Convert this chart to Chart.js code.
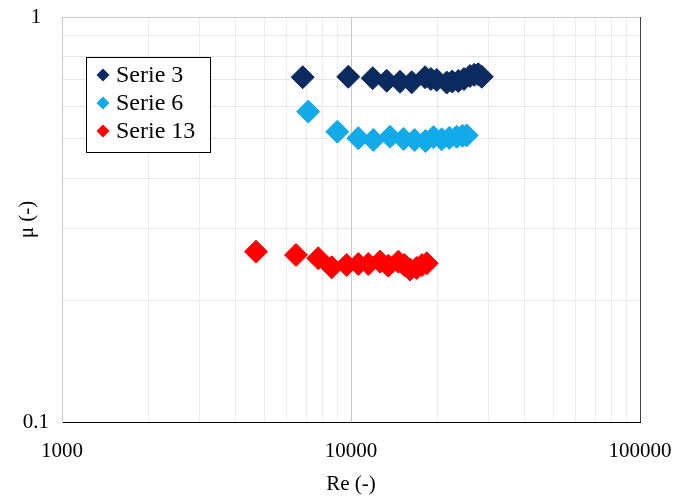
<!DOCTYPE html>
<html>
<head>
<meta charset="utf-8">
<script src="https://cdn.jsdelivr.net/npm/chart.js@4/dist/chart.umd.min.js"></script>
<style>
html,body{margin:0;padding:0;background:#fff;}
#wrap{position:relative;width:675px;height:498px;}
</style>
</head>
<body>
<div id="wrap"><canvas id="c" width="675" height="498"></canvas></div>
<script>
// ---- data ----
const seriesNames = ['Serie 3', 'Serie 6', 'Serie 13'];
const serie3Re = [6806, 9788, 11886, 13290, 14775, 16218, 18038, 18900, 19800, 21434, 22400, 23511, 24600, 25806, 26700, 27571, 28350];
const serie3Mu = [0.710, 0.712, 0.706, 0.696, 0.692, 0.690, 0.710, 0.703, 0.699, 0.689, 0.693, 0.695, 0.703, 0.715, 0.720, 0.722, 0.712];
const serie6Re = [7115, 8967, 10600, 11945, 13643, 15200, 16600, 18100, 19300, 20600, 21900, 23210, 24300, 25137];
const serie6Mu = [0.584, 0.521, 0.502, 0.497, 0.506, 0.500, 0.497, 0.494, 0.505, 0.499, 0.503, 0.506, 0.509, 0.510];
const serie13Re = [4691, 6452, 7705, 8576, 9663, 10600, 11477, 12600, 13464, 14577, 15300, 16003, 16880, 17600, 18285];
const serie13Mu = [0.2634, 0.2585, 0.2536, 0.2410, 0.2442, 0.2455, 0.2455, 0.2488, 0.2432, 0.2488, 0.2440, 0.2380, 0.2400, 0.2440, 0.2465];
const xTickLabels = ['1000', '10000', '100000'];
const yTickLabels = ['0.1', '1'];
const xGridValues = [1000, 2000, 3000, 4000, 5000, 6000, 7000, 8000, 9000,
                     10000, 20000, 30000, 40000, 50000, 60000, 70000, 80000, 90000, 100000];
const yGridValues = [0.1, 0.2, 0.3, 0.4, 0.5, 0.6, 0.7, 0.8, 0.9, 1];
const xTitle = 'Re (-)';
const yTitle = 'μ (-)';
const colors = ['#0b2a60', '#12aae8', '#ff0000'];

function pts(xs, ys) { return xs.map((x, i) => ({x: x, y: ys[i]})); }
const allSeries = [pts(serie3Re, serie3Mu), pts(serie6Re, serie6Mu), pts(serie13Re, serie13Mu)];

const serif = "'Liberation Serif', 'Times New Roman', serif";

const legendPlugin = {
  id: 'boxLegend',
  afterDraw(chart) {
    const ctx = chart.ctx;
    ctx.save();
    const bx = 86.5, by = 57.5, bw = 124, bh = 95;
    ctx.fillStyle = '#fff';
    ctx.fillRect(bx, by, bw, bh);
    ctx.strokeStyle = '#000';
    ctx.lineWidth = 1;
    ctx.strokeRect(bx, by, bw, bh);
    chart.data.datasets.forEach((ds, i) => {
      const cy = 75 + i * 28;
      const cx = 103;
      const r = 6.5;
      ctx.beginPath();
      ctx.moveTo(cx, cy - r);
      ctx.lineTo(cx + r, cy);
      ctx.lineTo(cx, cy + r);
      ctx.lineTo(cx - r, cy);
      ctx.closePath();
      ctx.fillStyle = ds.backgroundColor;
      ctx.fill();
      ctx.fillStyle = '#000';
      ctx.font = '24px ' + serif;
      ctx.textBaseline = 'middle';
      ctx.textAlign = 'left';
      ctx.fillText(ds.label, 116, cy + 1);
    });
    ctx.restore();
  }
};

function isDecade(v) {
  const l = Math.log10(v);
  return Math.abs(l - Math.round(l)) < 1e-9;
}
function zeroPad(s) { s.paddingTop = 0; s.paddingBottom = 0; s.paddingLeft = 0; s.paddingRight = 0; }

new Chart(document.getElementById('c'), {
  type: 'scatter',
  data: {
    datasets: allSeries.map((d, i) => ({
      label: seriesNames[i],
      data: d,
      backgroundColor: colors[i],
      borderColor: colors[i],
      borderWidth: 1,
      pointStyle: 'rectRot',
      pointRadius: 11.5,
      pointHoverRadius: 11.5
    }))
  },
  options: {
    responsive: false,
    animation: false,
    layout: { padding: { left: 0, right: 35, top: 17, bottom: 0 } },
    plugins: { legend: { display: false }, tooltip: { enabled: false } },
    scales: {
      x: {
        type: 'logarithmic',
        min: 1000, max: 100000,
        afterBuildTicks(s) { s.ticks = xGridValues.map(v => ({value: v})); },
        afterFit(s) { s.height = 76; zeroPad(s); },
        border: { display: true, color: '#000', width: 1 },
        grid: {
          drawTicks: false,
          color(c) {
            const v = c.tick ? c.tick.value : 0;
            if (v >= 100000) return '#404040';
            if (isDecade(v)) return '#c8c8c8';
            return '#ececec';
          }
        },
        ticks: {
          autoSkip: false, maxRotation: 0, padding: 17,
          color: '#000',
          font: { family: serif, size: 21 },
          callback(v) { const s = String(v); return xTickLabels.includes(s) ? s : ''; }
        },
        title: {
          display: true, text: xTitle, color: '#000',
          font: { family: serif, size: 21 },
          padding: { top: 0, bottom: 1 }
        }
      },
      y: {
        type: 'logarithmic',
        min: 0.1, max: 1,
        afterBuildTicks(s) { s.ticks = yGridValues.map(v => ({value: v})); },
        afterFit(s) { s.width = 62; zeroPad(s); },
        border: { display: true, color: '#c8c8c8', width: 1 },
        grid: {
          drawTicks: false,
          color(c) {
            const v = c.tick ? c.tick.value : 0;
            if (v >= 1) return '#c8c8c8';
            return '#e6e6e6';
          }
        },
        ticks: {
          autoSkip: false, padding: 13, crossAlign: 'center',
          color: '#000',
          font: { family: serif, size: 21 },
          callback(v) { const s = String(v); return yTickLabels.includes(s) ? s : ''; }
        },
        title: {
          display: true, text: yTitle, color: '#000',
          font: { family: serif, size: 21 },
          padding: { top: 15, bottom: 0 }
        }
      }
    }
  },
  plugins: [legendPlugin]
});
</script>
</body>
</html>
